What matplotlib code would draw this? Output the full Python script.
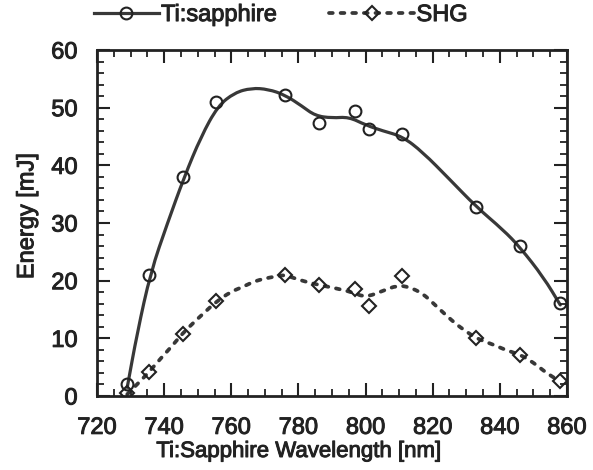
import matplotlib
matplotlib.use('Agg')
import matplotlib.pyplot as plt
import matplotlib.patheffects as pe
from matplotlib.path import Path
from matplotlib.patches import PathPatch
from matplotlib.lines import Line2D
from matplotlib.ticker import MultipleLocator

# measured points
wl = [729, 735.5, 745.5, 755.5, 776, 786, 797, 801, 811, 833, 846, 858]
ti_energy = [2.1, 21.0, 37.9, 51.0, 52.2, 47.3, 49.4, 46.3, 45.5, 32.8, 26.0, 16.1]
shg_energy = [0.5, 4.1, 10.8, 16.4, 21.0, 19.2, 18.6, 15.6, 20.8, 10.1, 7.2, 2.6]

# smooth guide curves
ti_curve_x = [729, 732, 736, 741, 746, 751, 756, 761, 766, 771, 776, 781, 785,
              790, 795, 800, 805, 811, 817, 825, 833, 841, 846, 853, 858]
ti_curve_y = [1.5, 11.0, 21.5, 30.0, 38.0, 45.0, 50.3, 52.6, 53.4, 53.2, 52.2,
              50.3, 48.6, 48.2, 48.4, 47.0, 46.0, 45.0, 42.3, 37.6, 32.8, 28.8,
              25.8, 20.6, 15.8]
shg_curve_x = [729, 732.4, 735.4, 739.4, 742.4, 745.4, 748.9, 752.4, 755.4,
               759.9, 763.4, 766.5, 770, 774, 776, 780.4, 785, 791, 796, 800,
               805, 809.5, 813, 817, 820.5, 824, 827.5, 831, 833, 839, 842, 846,
               850, 853, 856, 858]
shg_curve_y = [0.3, 2.3, 4.1, 6.8, 8.7, 10.8, 12.8, 14.7, 16.3, 18.1, 18.9,
               19.8, 20.4, 20.8, 21.0, 20.1, 19.4, 18.7, 18.0, 17.1, 18.2, 19.2,
               18.9, 17.8, 15.9, 14.0, 12.2, 10.8, 10.0, 8.7, 7.9, 7.2, 5.8,
               4.4, 3.2, 2.6]

INK = '#222222'
LINE = '#383838'
DASH = (0, (1.0, 2.1))
heavy = [pe.withStroke(linewidth=0.7, foreground=INK)]


def smooth_path(xs, ys):
    # quadratic b-spline through midpoints, drawn by matplotlib
    pts = list(zip(xs, ys))
    mid = lambda a, b: ((a[0] + b[0]) / 2, (a[1] + b[1]) / 2)
    verts = [pts[0], mid(pts[0], pts[1])]
    codes = [Path.MOVETO, Path.LINETO]
    for i in range(1, len(pts) - 1):
        verts += [pts[i], mid(pts[i], pts[i + 1])]
        codes += [Path.CURVE3, Path.CURVE3]
    verts.append(pts[-1])
    codes.append(Path.LINETO)
    return Path(verts, codes)


plt.rcParams['font.family'] = ['Liberation Sans', 'DejaVu Sans']

fig = plt.figure(figsize=(5.93, 4.70), dpi=100)
ax = fig.add_axes([0.1636, 0.1574, 0.7925, 0.7362])

ax.add_patch(PathPatch(smooth_path(ti_curve_x, ti_curve_y), fill=False,
                       edgecolor=LINE, lw=2.3, capstyle='round'))
ax.add_patch(PathPatch(smooth_path(shg_curve_x, shg_curve_y), fill=False,
                       edgecolor=LINE, lw=2.7, linestyle=DASH,
                       capstyle='round'))

ax.plot(wl, ti_energy, 'o', ms=8.5, mfc='none', mec=INK, mew=1.5, zorder=5)
ax.plot(wl, shg_energy, 'D', ms=7, mfc='none', mec=INK, mew=1.5, zorder=5)

ax.set_xlim(720, 860)
ax.set_ylim(0, 60)
ax.xaxis.set_major_locator(MultipleLocator(20))
ax.xaxis.set_minor_locator(MultipleLocator(5))
ax.yaxis.set_major_locator(MultipleLocator(10))
ax.yaxis.set_minor_locator(MultipleLocator(2))

ax.tick_params(which='both', direction='in', top=True, right=True,
               color=INK, labelcolor=INK, labelsize=17)
ax.tick_params(which='major', length=9.5, width=1.5)
ax.tick_params(axis='x', which='major', pad=15)
ax.tick_params(axis='y', which='major', pad=14)
ax.tick_params(which='minor', length=5, width=1.3)
for lab in ax.get_xticklabels() + ax.get_yticklabels():
    lab.set_path_effects(heavy)
for sp in ax.spines.values():
    sp.set_linewidth(2)
    sp.set_color(INK)

ax.set_xlabel('Ti:Sapphire Wavelength [nm]', fontsize=16, color=INK,
              path_effects=heavy)
ax.xaxis.set_label_coords(0.43, -0.13)
ax.set_ylabel('Energy [mJ]', fontsize=17, color=INK, path_effects=heavy)
ax.yaxis.set_label_coords(-0.125, 0.52)

ti_handle = Line2D([], [], color=LINE, lw=2.3, marker='o', ms=8.5,
                   mfc='none', mec=INK, mew=1.5)
shg_handle = Line2D([], [], color=LINE, lw=2.7, ls=DASH, dash_capstyle='round',
                    marker='D', ms=7, mfc='none', mec=INK, mew=1.5)
common = dict(frameon=False, numpoints=1, handletextpad=0.1, borderpad=0,
              borderaxespad=0, prop={'size': 17}, labelcolor=INK)
leg1 = fig.legend([ti_handle], ['Ti:sapphire'], loc='center left',
                  bbox_to_anchor=(0.158, 0.968), handlelength=2.75, **common)
leg2 = fig.legend([shg_handle], ['SHG'], loc='center left',
                  bbox_to_anchor=(0.555, 0.968), handlelength=3.6, **common)
for leg in (leg1, leg2):
    for t in leg.get_texts():
        t.set_path_effects(heavy)

fig.savefig('out.png', dpi=100)
